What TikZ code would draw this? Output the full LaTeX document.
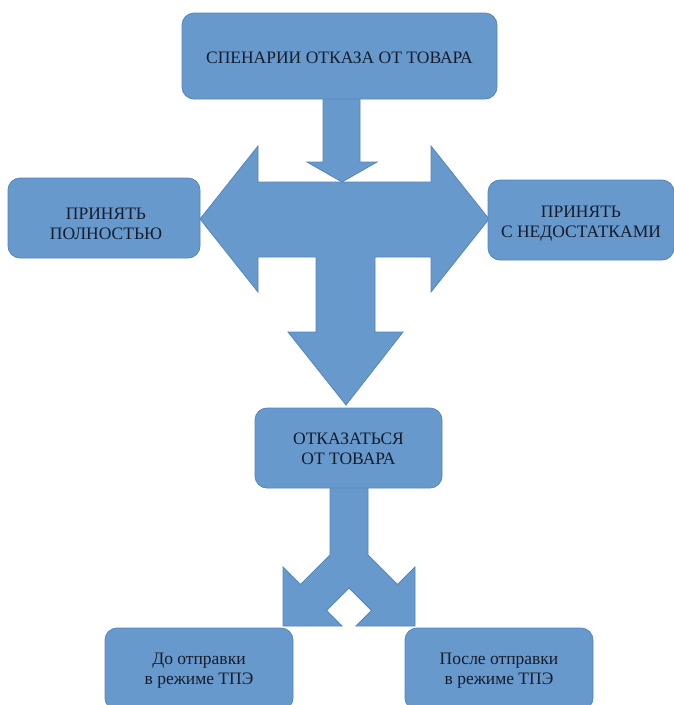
\documentclass[tikz,border=0pt]{standalone}
\usepackage{fontspec}
\setmainfont{Liberation Serif}
\definecolor{boxfill}{RGB}{103,153,205}
\definecolor{boxedge}{RGB}{84,134,190}
\definecolor{txt}{RGB}{22,28,42}
\begin{document}
\begin{tikzpicture}[x=1pt,y=-1pt,
  box/.style={draw=boxedge, line width=0.8pt, fill=boxfill, rounded corners=12pt, inner sep=0pt},
  lbl/.style={inner sep=0pt, align=center, text=txt, font=\fontsize{17.5}{20}\selectfont},
  blockarrow/.style={draw=boxedge, line width=0.8pt, fill=boxfill, line join=miter}]
\useasboundingbox[fill=white] (0,0) rectangle (673,705);

% arrow from title down
\draw[blockarrow] (323,98) -- (360,98) -- (360,162) -- (377,162) -- (342,182)
  -- (307,162) -- (323,162) -- cycle;

% double-headed horizontal arrow with downward branch
\draw[blockarrow] (200,219) -- (258,146) -- (258,182) -- (431,182) -- (431,146)
  -- (489,219) -- (431,292) -- (431,257) -- (375,257) -- (375,332) -- (403,332)
  -- (346,405) -- (288,332) -- (316,332) -- (316,257) -- (258,257) -- (258,292) -- cycle;

% forked arrow
\draw[blockarrow] (330,487) -- (330,555) -- (300.5,584.5) -- (283,567) -- (283,626)
  -- (342,626) -- (326.5,610.5) -- (349,588) -- (371.5,610.5) -- (356,626)
  -- (415,626) -- (415,567) -- (397.5,584.5) -- (368,555) -- (368,487) -- cycle;

\node[box, minimum width=315pt, minimum height=86pt] (title) at (339.5,56) {};
\node[box, minimum width=192pt, minimum height=80pt] (full) at (104,218) {};
\node[box, minimum width=186pt, minimum height=80pt] (defects) at (581,220) {};
\node[box, minimum width=187pt, minimum height=80pt] (refuse) at (348.5,448) {};
\node[box, minimum width=188pt, minimum height=82pt] (before) at (199,669) {};
\node[box, minimum width=188pt, minimum height=82pt] (after) at (499,669) {};

\node[lbl] (title-t) at (title.center) [yshift=-2pt] {СПЕНАРИИ ОТКАЗА ОТ ТОВАРА};
\node[lbl] (full-t) at (full.center) [yshift=-6pt, xshift=2pt] {ПРИНЯТЬ\\ПОЛНОСТЬЮ};
\node[lbl] (defects-t) at (defects.center) [yshift=-4pt] {ПРИНЯТЬ\\С НЕДОСТАТКАМИ};
\node[lbl] (refuse-t) at (refuse.center) [yshift=-1pt] {ОТКАЗАТЬСЯ\\ОТ ТОВАРА};
\node[lbl] (before-t) at (before.center) [yshift=-2pt] {До отправки\\в режиме ТПЭ};
\node[lbl] (after-t) at (after.center) [yshift=-2pt] {После отправки\\в режиме ТПЭ};
\end{tikzpicture}
\end{document}
